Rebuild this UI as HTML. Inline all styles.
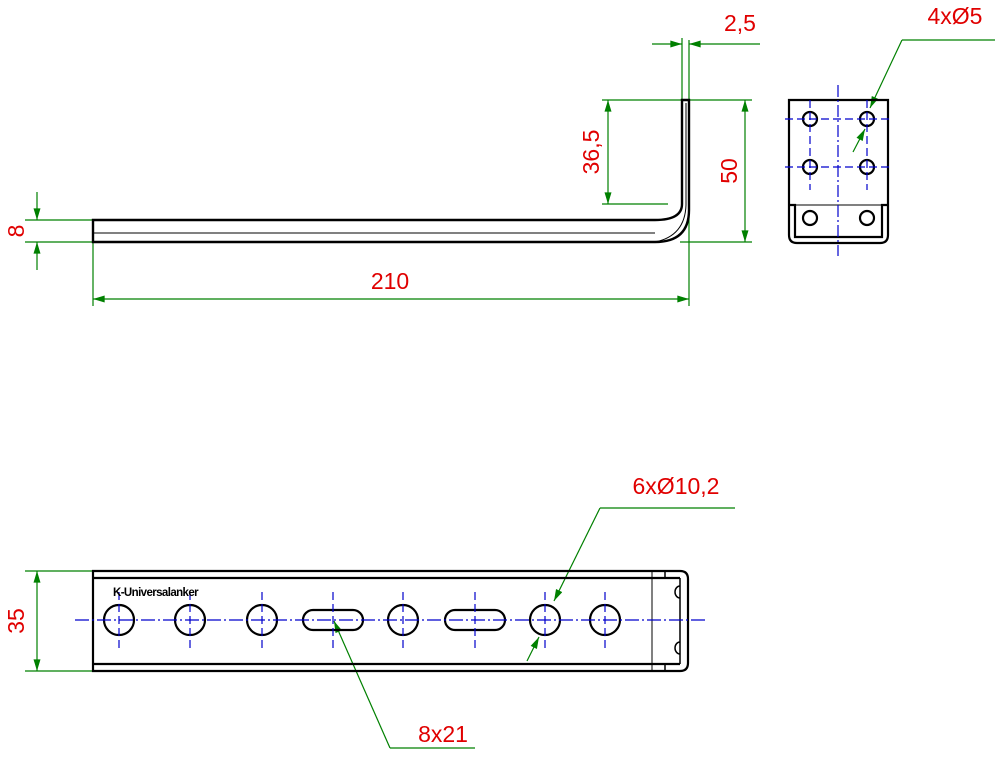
<!DOCTYPE html>
<html><head><style>body{margin:0;background:#fff}svg{display:block}</style></head>
<body>
<svg width="1008" height="757" viewBox="0 0 1008 757" xmlns="http://www.w3.org/2000/svg" font-family="Liberation Sans, sans-serif">
<defs>
<marker id="a" viewBox="0 0 10 6" refX="10" refY="3" markerWidth="17" markerHeight="7" markerUnits="userSpaceOnUse" orient="auto-start-reverse"><path d="M0,0L10,3L0,6z" fill="#008000"/></marker>
</defs>
<g stroke="#008000" stroke-width="1.2" fill="none">
<line x1="25" y1="220" x2="93" y2="220"/><line x1="25" y1="242" x2="93" y2="242"/>
<line x1="37" y1="192" x2="37" y2="220" marker-end="url(#a)"/><line x1="37" y1="270" x2="37" y2="242" marker-end="url(#a)"/>
<line x1="93" y1="242" x2="93" y2="306"/><line x1="689" y1="40" x2="689" y2="306"/>
<line x1="93" y1="299" x2="689" y2="299" marker-start="url(#a)" marker-end="url(#a)"/>
<line x1="682" y1="38" x2="682" y2="100"/>
<line x1="652" y1="44" x2="682" y2="44" marker-end="url(#a)"/><line x1="760" y1="44" x2="689" y2="44" marker-end="url(#a)"/>
<line x1="602" y1="100" x2="682" y2="100"/><line x1="602" y1="204" x2="668" y2="204"/>
<line x1="608" y1="100" x2="608" y2="204" marker-start="url(#a)" marker-end="url(#a)"/>
<line x1="689" y1="100" x2="752" y2="100"/><line x1="680" y1="242" x2="752" y2="242"/>
<line x1="745" y1="100" x2="745" y2="242" marker-start="url(#a)" marker-end="url(#a)"/>
<line x1="995" y1="40" x2="902" y2="40"/><line x1="902" y1="40" x2="870" y2="108" marker-end="url(#a)"/>
<line x1="853" y1="152" x2="865" y2="129" marker-end="url(#a)"/>
<line x1="25" y1="571" x2="93" y2="571"/><line x1="25" y1="671" x2="93" y2="671"/>
<line x1="37" y1="571" x2="37" y2="671" marker-start="url(#a)" marker-end="url(#a)"/>
<line x1="735" y1="508" x2="600" y2="508"/><line x1="600" y1="508" x2="554" y2="601" marker-end="url(#a)"/>
<line x1="527" y1="661" x2="539" y2="637" marker-end="url(#a)"/>
<line x1="475" y1="748" x2="390" y2="748"/><line x1="390" y1="748" x2="334" y2="621" marker-end="url(#a)"/>
</g>
<g stroke="#000" fill="none">
<path d="M93,220H655Q682,220 682,204V100H689V210Q689,242 655,242H93Z" stroke-width="2.4"/>
<path d="M93,233H655M655,242Q685,236 686,205V103" stroke-width="1"/>
</g>
<g stroke="#000" fill="none" stroke-width="2.2">
<path d="M789,100H888V235Q888,243 880,243H797Q789,243 789,235Z"/>
<path d="M789,205H795V237H882V205H888" />
<line x1="795" y1="205" x2="882" y2="205" stroke-width="1"/>
<circle cx="810" cy="119" r="7"/><circle cx="867" cy="119" r="7"/>
<circle cx="810" cy="167" r="7"/><circle cx="867" cy="167" r="7"/>
<circle cx="810" cy="218" r="7"/><circle cx="867" cy="218" r="7"/>
</g>
<g stroke="#0000cc" stroke-width="1.2" fill="none">
<line x1="838" y1="85" x2="838" y2="256" stroke-dasharray="12,3,2,3"/>
<line x1="785" y1="119" x2="893" y2="119" stroke-dasharray="8,4"/>
<line x1="785" y1="167" x2="893" y2="167" stroke-dasharray="8,4"/>
<line x1="810" y1="100" x2="810" y2="190" stroke-dasharray="8,4"/>
<line x1="867" y1="100" x2="867" y2="190" stroke-dasharray="8,4"/>
</g>
<g stroke="#000" fill="none">
<path d="M93,571H680Q688,571 688,579V663Q688,671 680,671H93Z" stroke-width="2.2"/>
<line x1="93" y1="578" x2="680" y2="578" stroke-width="2.2"/>
<line x1="93" y1="664" x2="680" y2="664" stroke-width="2.2"/>
<line x1="652" y1="571" x2="652" y2="671" stroke-width="1"/>
<line x1="665" y1="571" x2="665" y2="578" stroke-width="1.5"/>
<line x1="665" y1="664" x2="665" y2="671" stroke-width="1.5"/>
<line x1="680" y1="578" x2="680" y2="664" stroke-width="1.5"/>
<path d="M680,586A5,6 0 0 0 680,598M680,642A5,6 0 0 0 680,654" stroke-width="1.5"/>
<g stroke-width="2.2">
<circle cx="119" cy="620" r="15"/><circle cx="190" cy="620" r="15"/><circle cx="262" cy="620" r="15"/>
<circle cx="403" cy="620" r="15"/><circle cx="545" cy="620" r="15"/><circle cx="605" cy="620" r="15"/>
<rect x="303" y="610" width="60" height="20" rx="10"/><rect x="445" y="610" width="60" height="20" rx="10"/>
</g>
</g>
<g stroke="#0000cc" stroke-width="1.2">
<line x1="75" y1="620" x2="705" y2="620" stroke-dasharray="14,3,2,3"/>
<g stroke-dasharray="8,4">
<line x1="119" y1="592" x2="119" y2="648"/><line x1="190" y1="592" x2="190" y2="648"/><line x1="262" y1="592" x2="262" y2="648"/>
<line x1="333" y1="592" x2="333" y2="648"/><line x1="403" y1="592" x2="403" y2="648"/><line x1="475" y1="592" x2="475" y2="648"/>
<line x1="545" y1="592" x2="545" y2="648"/><line x1="605" y1="592" x2="605" y2="648"/>
</g>
</g>
<text x="113" y="596" font-size="11.5" font-weight="bold" letter-spacing="-0.6">K-Universalanker</text>
<g fill="#e00000" font-size="23">
<text x="390" y="289" text-anchor="middle">210</text>
<text x="740" y="31" text-anchor="middle">2,5</text>
<text x="955" y="24" text-anchor="middle">4xØ5</text>
<text x="676" y="494" text-anchor="middle">6xØ10,2</text>
<text x="443" y="742" text-anchor="middle">8x21</text>
<text transform="translate(24,231) rotate(-90)" text-anchor="middle">8</text>
<text transform="translate(599,152) rotate(-90)" text-anchor="middle">36,5</text>
<text transform="translate(737,171) rotate(-90)" text-anchor="middle">50</text>
<text transform="translate(24,621) rotate(-90)" text-anchor="middle">35</text>
</g>
</svg>
</body></html>
